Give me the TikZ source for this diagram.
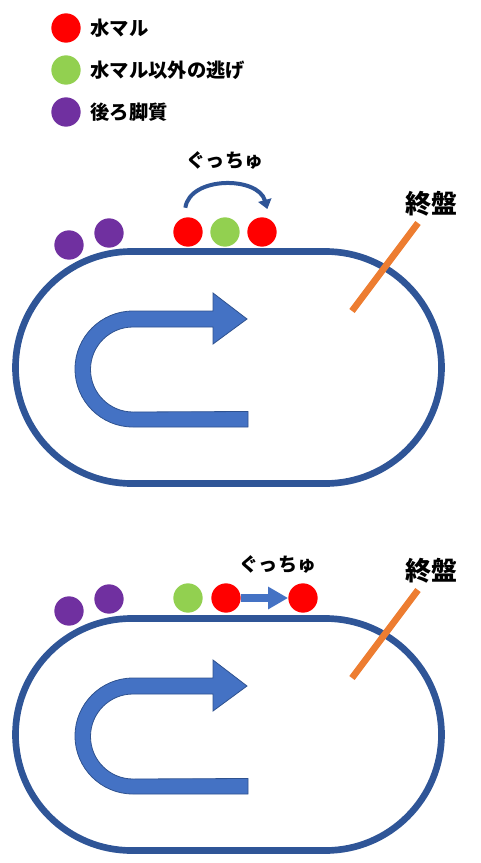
\documentclass[tikz,border=0pt]{standalone}
\usepackage{fontspec}
\setmainfont{Noto Sans CJK JP}
\usetikzlibrary{arrows.meta,positioning}
\definecolor{trackblue}{HTML}{2F5597}
\definecolor{turnblue}{HTML}{4472C4}
\definecolor{turnedge}{HTML}{2F528F}
\definecolor{mizured}{HTML}{FF0000}
\definecolor{nigegreen}{HTML}{92D050}
\definecolor{ushiropurple}{HTML}{7030A0}
\definecolor{goalorange}{HTML}{ED7D31}
\begin{document}
\begin{tikzpicture}[x=0.75pt, y=-0.75pt,
  ball/.style={circle, minimum size=22pt, inner sep=0pt},
  legendtext/.style={font=\bfseries\fontsize{14.5}{16}\selectfont, inner sep=0pt},
  guchu/.style={font=\bfseries\fontsize{14.3}{16}\selectfont},
  goal/.style={font=\bfseries\fontsize{19.5}{22}\selectfont},
  track/.style={draw=trackblue, line width=5pt, rounded corners=87pt},
  turn/.style={fill=turnblue, draw=turnedge, line width=0.6pt},
  goalline/.style={draw=goalorange, line width=5pt}]
\useasboundingbox (0,0) rectangle (481,863);
% legend
\node[ball, fill=mizured] (lred) at (66,28){};
\node[ball, fill=nigegreen] (lgreen) at (66,70){};
\node[ball, fill=ushiropurple] (lpurple) at (66,112){};
\node[legendtext, right=7pt of lred] (tred) {水マル};
\node[legendtext, right=7pt of lgreen] (tgreen) {水マル以外の逃げ};
\node[legendtext, right=7pt of lpurple] (tpurple) {後ろ脚質};
% track, turn arrow and goal line, both panels
\foreach \oy in {0,367}{
  \draw[track] (15.5,251.5+\oy) rectangle (441.5,483.5+\oy);
  \filldraw[turn] (213,311+\oy) -- (213,293+\oy) -- (247,319+\oy) -- (213,344+\oy)
    -- (213,327+\oy) -- (133,327+\oy) arc[start angle=270, end angle=90, radius=42.5]
    -- (248,411.5+\oy) -- (248,427+\oy) -- (133,427+\oy)
    arc[start angle=90, end angle=270, radius=58] -- cycle;
  \draw[goalline] (418,223+\oy) -- (352,311+\oy);
  \node[goal] (goal\oy) at (431,204+\oy) {終盤};
}
% top panel
\node[ball, fill=ushiropurple] (ap1) at (69,245){};
\node[ball, fill=ushiropurple] (ap2) at (109,233){};
\node[ball, fill=mizured] (ar1) at (188,232){};
\node[ball, fill=nigegreen] (ag1) at (225,232){};
\node[ball, fill=mizured] (ar2) at (262,232){};
\node[guchu] (aguchu) at (225,160) {ぐっちゅ};
\draw[trackblue, line width=3pt, -{Triangle[width=10pt,length=7pt]}]
  ([xshift=-2pt, yshift=7pt]ar1.north) .. controls (190,176) and (258,176) .. ([xshift=4pt, yshift=6pt]ar2.north);
% bottom panel
\node[ball, fill=ushiropurple] (bp1) at (69,611){};
\node[ball, fill=ushiropurple] (bp2) at (109,599){};
\node[ball, fill=nigegreen] (bg1) at (188,598){};
\node[ball, fill=mizured] (br1) at (226,598){};
\node[ball, fill=mizured] (br2) at (303,598){};
\node[guchu] (bguchu) at (278,564) {ぐっちゅ};
\draw[turnblue, line width=6pt, -{Triangle[width=16pt,length=15pt]}] (br1) -- (br2);
\end{tikzpicture}
\end{document}
